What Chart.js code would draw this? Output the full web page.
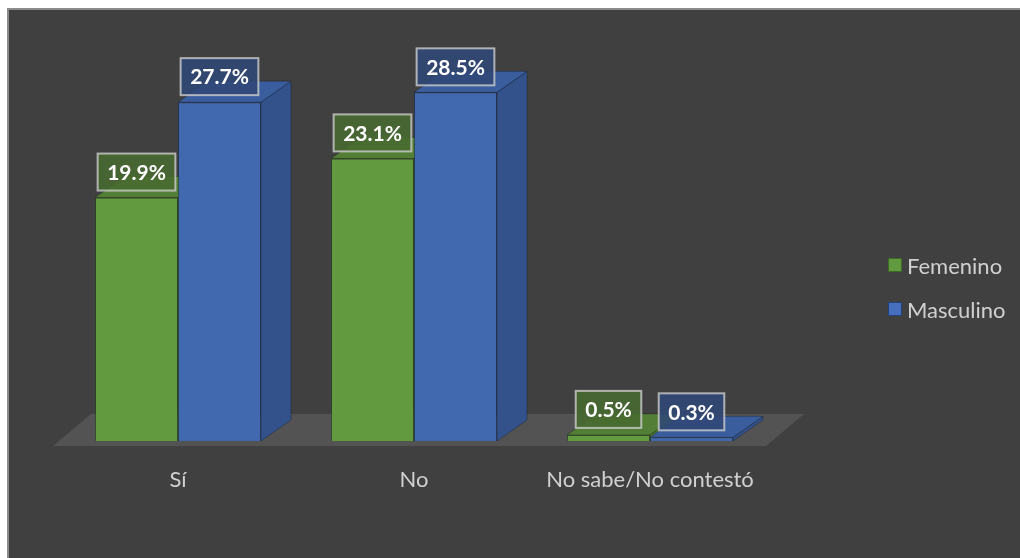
<!DOCTYPE html>
<html lang="es">
<head>
<meta charset="UTF-8">
<title>Sí / No por sexo</title>
<script src="https://cdn.jsdelivr.net/npm/chart.js"></script>
<style>
    html, body {
        margin: 0;
        padding: 0;
        background: #ffffff;
        width: 1020px;
        height: 558px;
        overflow: hidden;
    }
    body {
        position: relative;
        font-family: Lato, "Noto Sans", sans-serif;
    }
    #frame {
        position: absolute;
        left: 7px;
        top: 8px;
        width: 1040px;
        height: 580px;
        background: #404040;
        border-top: 2px solid #8c8c8c;
        border-left: 2px solid #8c8c8c;
        box-sizing: border-box;
    }
    #chart {
        position: absolute;
        left: 0;
        top: 0;
    }
    .legend-item {
        position: absolute;
        left: 888px;
        height: 24px;
        display: flex;
        align-items: center;
        color: #d0d0d0;
        font-size: 22px;
    }
    .legend-item span.box {
        width: 14px;
        height: 14px;
        box-sizing: border-box;
        border: 1px solid;
        margin-right: 5px;
    }
</style>
</head>
<body>
<div id="frame"></div>
<canvas id="chart" width="1020" height="558"></canvas>
<div class="legend-item" style="top:253px"><span class="box" style="background:#629a3f;border-color:#3f6a26"></span>Femenino</div>
<div class="legend-item" style="top:297px"><span class="box" style="background:#4670bd;border-color:#24427a"></span>Masculino</div>

<script>
    // datos
    const categorias = ['Sí', 'No', 'No sabe/No contestó'];
    const femenino = [19.9, 23.1, 0.5];
    const masculino = [27.7, 28.5, 0.3];

    // colores de cada serie: frente, tapa, lado, caja de etiqueta
    const estilos = [
        { frente: '#629a3f', tapa: '#527f35', lado: '#4b7630', caja: 'rgba(72,106,48,0.88)' },
        { frente: '#4169b0', tapa: '#3a5d9e', lado: '#33528b', caja: 'rgba(48,72,118,0.88)' }
    ];
    const DX = 30, DY = 21;

    // piso y caras 3D antes de que Chart.js dibuje el frente de las barras
    const efecto3d = {
        id: 'efecto3d',
        beforeDatasetsDraw(chart) {
            const ctx = chart.ctx;
            const a = chart.chartArea;
            ctx.save();
            // piso
            ctx.fillStyle = '#535353';
            ctx.beginPath();
            ctx.moveTo(a.left - 7, a.bottom + 5);
            ctx.lineTo(a.right - 2, a.bottom + 5);
            ctx.lineTo(a.right + 36, a.bottom - 27);
            ctx.lineTo(a.left + 31, a.bottom - 27);
            ctx.closePath();
            ctx.fill();

            for (let i = 0; i < categorias.length; i++) {
                for (let d = 0; d < 2; d++) {
                    const el = chart.getDatasetMeta(d).data[i];
                    const { x, y, base, width } = el.getProps(['x', 'y', 'base', 'width'], true);
                    const l = x - width / 2, r = x + width / 2;
                    ctx.strokeStyle = 'rgba(0,0,0,0.25)';
                    ctx.lineWidth = 1;
                    // lado
                    ctx.fillStyle = estilos[d].lado;
                    ctx.beginPath();
                    ctx.moveTo(r, y);
                    ctx.lineTo(r + DX, y - DY);
                    ctx.lineTo(r + DX, base - DY);
                    ctx.lineTo(r, base);
                    ctx.closePath();
                    ctx.fill();
                    ctx.stroke();
                    // tapa
                    ctx.fillStyle = estilos[d].tapa;
                    ctx.beginPath();
                    ctx.moveTo(l, y);
                    ctx.lineTo(r, y);
                    ctx.lineTo(r + DX, y - DY);
                    ctx.lineTo(l + DX, y - DY);
                    ctx.closePath();
                    ctx.fill();
                    ctx.stroke();
                }
            }
            ctx.restore();
        },
        afterDatasetsDraw(chart) {
            const ctx = chart.ctx;
            ctx.save();
            ctx.font = 'bold 21px Lato, "Noto Sans", sans-serif';
            ctx.textAlign = 'center';
            ctx.textBaseline = 'middle';
            chart.data.datasets.forEach((ds, d) => {
                chart.getDatasetMeta(d).data.forEach((el, i) => {
                    const { x, y } = el.getProps(['x', 'y'], true);
                    const txt = ds.data[i].toFixed(1) + '%';
                    const w = ctx.measureText(txt).width + 19;
                    const h = 37;
                    const bx = x - w / 2, by = y - 7 - h;
                    ctx.fillStyle = estilos[d].caja;
                    ctx.fillRect(bx, by, w, h);
                    ctx.strokeStyle = 'rgba(205,205,205,0.8)';
                    ctx.lineWidth = 2;
                    ctx.strokeRect(bx, by, w, h);
                    ctx.fillStyle = '#ffffff';
                    ctx.fillText(txt, x, by + h / 2 + 1);
                });
            });
            ctx.restore();
        }
    };

    const ctx = document.getElementById('chart').getContext('2d');
    new Chart(ctx, {
        type: 'bar',
        data: {
            labels: categorias,
            datasets: [
                {
                    label: 'Femenino',
                    data: femenino,
                    backgroundColor: estilos[0].frente,
                    borderColor: 'rgba(40,70,25,0.6)',
                    borderWidth: 1,
                    categoryPercentage: 0.7034,
                    barPercentage: 1
                },
                {
                    label: 'Masculino',
                    data: masculino,
                    backgroundColor: estilos[1].frente,
                    borderColor: 'rgba(25,45,90,0.6)',
                    borderWidth: 1,
                    categoryPercentage: 0.7034,
                    barPercentage: 1
                }
            ]
        },
        options: {
            responsive: false,
            devicePixelRatio: 1,
            animation: false,
            layout: { padding: { left: 60, right: 252, top: 74, bottom: 0 } },
            scales: {
                x: {
                    grid: { display: false, drawTicks: false },
                    border: { display: false },
                    ticks: {
                        color: '#d0d0d0',
                        font: { family: 'Lato, "Noto Sans", sans-serif', size: 22 },
                        padding: 26,
                        maxRotation: 0
                    },
                    afterFit(scale) { scale.height = 117; }
                },
                y: {
                    display: false,
                    min: 0,
                    max: 30
                }
            },
            plugins: {
                legend: { display: false },
                tooltip: { enabled: false }
            }
        },
        plugins: [efecto3d]
    });
</script>
</body>
</html>
